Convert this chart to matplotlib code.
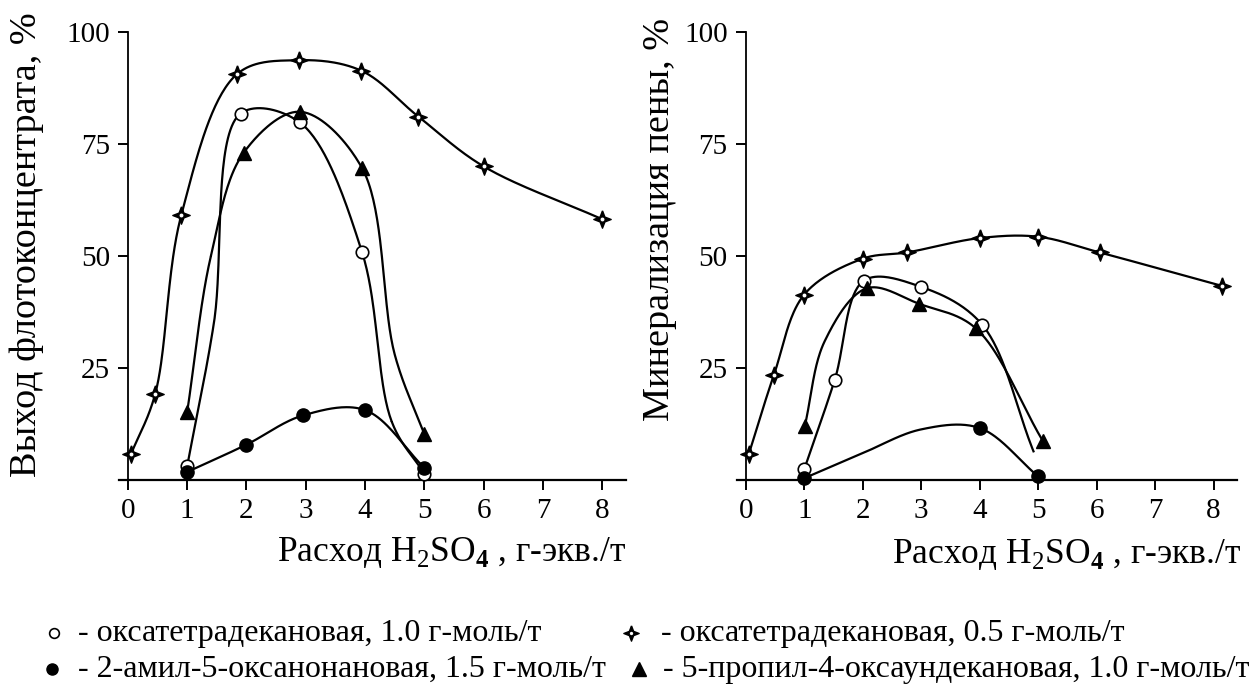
import numpy as np
import matplotlib
matplotlib.use("Agg")
import matplotlib.pyplot as plt
from matplotlib.path import Path
from matplotlib.lines import Line2D

plt.rcParams['font.family'] = ['Liberation Serif', 'DejaVu Serif']
plt.rcParams['mathtext.fontset'] = 'custom'
plt.rcParams['mathtext.rm'] = 'Liberation Serif'
plt.rcParams['mathtext.bf'] = 'Liberation Serif:bold'

# ---- data: left panel (выход флотоконцентрата) ----
# *_mark = indices of points that carry a marker, other points only shape the curve
l_open_x = [1.0, 1.45, 1.9, 2.9, 3.95, 4.45, 5.0]
l_open_y = [3.1, 35.0, 81.8, 79.8, 50.8, 13.0, 1.4]
l_open_mark = [0, 2, 3, 4, 6]
l_star_x = [0.05, 0.46, 0.9, 1.84, 2.88, 3.93, 4.9, 6.0, 8.0]
l_star_y = [5.7, 19.2, 59.1, 90.6, 93.7, 91.4, 81.1, 70.0, 58.2]
l_fill_x = [1.0, 2.0, 2.95, 4.0, 5.0]
l_fill_y = [1.8, 7.9, 14.4, 15.6, 2.7]
l_tri_x = [1.0, 1.4, 1.95, 2.9, 3.95, 4.5, 5.0]
l_tri_y = [15.2, 50.0, 73.0, 82.2, 69.6, 28.0, 10.2]
l_tri_mark = [0, 2, 3, 4, 6]

# ---- data: right panel (минерализация пены) ----
r_open_x = [1.0, 1.52, 2.02, 3.0, 4.04, 4.92]
r_open_y = [2.4, 22.3, 44.5, 43.1, 34.7, 6.4]
r_open_mark = [0, 1, 2, 3, 4]
r_star_x = [0.05, 0.48, 1.0, 2.0, 2.76, 4.0, 5.0, 6.05, 8.15]
r_star_y = [5.7, 23.4, 41.4, 49.4, 50.8, 54.0, 54.3, 50.8, 43.3]
r_fill_x = [1.0, 2.0, 3.0, 4.0, 5.0]
r_fill_y = [0.4, 6.0, 11.3, 11.6, 0.8]
r_fill_mark = [0, 3, 4]
r_tri_x = [1.01, 1.35, 2.07, 2.97, 3.93, 5.08]
r_tri_y = [12.1, 31.0, 42.8, 39.3, 33.9, 8.7]
r_tri_mark = [0, 2, 3, 4, 5]

x_ticks = [0, 1, 2, 3, 4, 5, 6, 7, 8]
y_ticks = [25, 50, 75, 100]

legend_labels = ["- оксатетрадекановая, 1.0 г-моль/т",
                 "- оксатетрадекановая, 0.5 г-моль/т",
                 "- 2-амил-5-оксанонановая, 1.5 г-моль/т",
                 "- 5-пропил-4-оксаундекановая, 1.0 г-моль/т"]

# four-pointed star marker
r_in = 0.28
star = Path([(0, 1), (r_in, r_in), (1, 0), (r_in, -r_in), (0, -1),
             (-r_in, -r_in), (-1, 0), (-r_in, r_in), (0, 1)])


def smooth(xs, ys, sx=59.0, sy=4.48, n=40):
    # centripetal Catmull-Rom through the points (in pixel-like space)
    P = np.column_stack([np.asarray(xs) * sx, np.asarray(ys) * sy])
    P = np.vstack([2 * P[0] - P[1], P, 2 * P[-1] - P[-2]])
    outx, outy = [], []
    for i in range(1, len(P) - 2):
        p0, p1, p2, p3 = P[i - 1], P[i], P[i + 1], P[i + 2]
        t0 = 0.0
        t1 = t0 + np.linalg.norm(p1 - p0) ** 0.5
        t2 = t1 + np.linalg.norm(p2 - p1) ** 0.5
        t3 = t2 + np.linalg.norm(p3 - p2) ** 0.5
        t = np.linspace(t1, t2, n)[:, None]
        a1 = (t1 - t) / (t1 - t0) * p0 + (t - t0) / (t1 - t0) * p1
        a2 = (t2 - t) / (t2 - t1) * p1 + (t - t1) / (t2 - t1) * p2
        a3 = (t3 - t) / (t3 - t2) * p2 + (t - t2) / (t3 - t2) * p3
        b1 = (t2 - t) / (t2 - t0) * a1 + (t - t0) / (t2 - t0) * a2
        b2 = (t3 - t) / (t3 - t1) * a2 + (t - t1) / (t3 - t1) * a3
        c = (t2 - t) / (t2 - t1) * b1 + (t - t1) / (t2 - t1) * b2
        outx.extend(c[:, 0] / sx)
        outy.extend(c[:, 1] / sy)
    return np.array(outx), np.array(outy)


def draw_series(ax, xs, ys, kind, mark=None):
    cx, cy = smooth(xs, ys)
    ax.plot(cx, cy, color='black', lw=1.6, clip_on=False, zorder=2)
    xs = np.asarray(xs)
    ys = np.asarray(ys)
    if mark is not None:
        xs = xs[mark]
        ys = ys[mark]
    if kind == 'open':
        ax.plot(xs, ys, 'o', ms=9, mfc='white', mec='black', mew=1.2, clip_on=False, zorder=3)
    elif kind == 'fill':
        ax.plot(xs, ys, 'o', ms=9.5, color='black', clip_on=False, zorder=3)
    elif kind == 'tri':
        ax.plot(xs, ys, '^', ms=10.5, color='black', clip_on=False, zorder=3)
    else:
        ax.plot(xs, ys, ls='none', marker=star, ms=12.5, color='black', clip_on=False, zorder=3)
        ax.plot(xs, ys, 'o', ms=2.8, color='white', mew=0, clip_on=False, zorder=4)


fig = plt.figure(figsize=(12.5, 6.92), dpi=100)
ax1 = fig.add_axes([119 / 1250, 1 - 480 / 692, 507 / 1250, 448 / 692])
ax2 = fig.add_axes([737 / 1250, 1 - 480 / 692, 500 / 1250, 448 / 692])

draw_series(ax1, l_star_x, l_star_y, 'star')
draw_series(ax1, l_open_x, l_open_y, 'open', l_open_mark)
draw_series(ax1, l_tri_x, l_tri_y, 'tri', l_tri_mark)
draw_series(ax1, l_fill_x, l_fill_y, 'fill')

draw_series(ax2, r_star_x, r_star_y, 'star')
draw_series(ax2, r_open_x, r_open_y, 'open', r_open_mark)
draw_series(ax2, r_tri_x, r_tri_y, 'tri', r_tri_mark)
draw_series(ax2, r_fill_x, r_fill_y, 'fill', r_fill_mark)

for ax in (ax1, ax2):
    ax.set_xlim(-0.15, 8.4)
    ax.set_ylim(0, 100)
    ax.spines['top'].set_visible(False)
    ax.spines['right'].set_visible(False)
    ax.spines['left'].set_position(('data', 0))
    ax.spines['left'].set_linewidth(1.3)
    ax.spines['bottom'].set_linewidth(1.6)
    ax.set_xticks(x_ticks)
    ax.set_yticks(y_ticks)
    ax.tick_params(direction='out', length=7, width=1.4, labelsize=21, pad=6)
    ax.patch.set_visible(False)

fig.text(27 / 1250, 1 - 245 / 692, "Выход флотоконцентрата, %", rotation=90,
         ha='center', va='center', fontsize=27.5)
fig.text(660 / 1250, 1 - 219 / 692, "Минерализация пены, %", rotation=90,
         ha='center', va='center', fontsize=27.5)
fig.text(452 / 1250, 1 - 553 / 692, r"Расход H$_2$SO$_\mathbf{4}$ , г-экв./т",
         ha='center', va='center', fontsize=25.5)
fig.text(1067 / 1250, 1 - 555 / 692, r"Расход H$_2$SO$_\mathbf{4}$ , г-экв./т",
         ha='center', va='center', fontsize=25.5)

# legend
row1, row2 = 1 - 633 / 692, 1 - 669 / 692
fig.add_artist(Line2D([54 / 1250], [row1], transform=fig.transFigure, marker='o', ms=7,
                      mfc='white', mec='black', mew=1.2, ls='none'))
fig.add_artist(Line2D([631 / 1250], [row1], transform=fig.transFigure, marker=star, ms=11,
                      color='black', ls='none'))
fig.add_artist(Line2D([631 / 1250], [row1], transform=fig.transFigure, marker='o', ms=2.4,
                      color='white', mew=0, ls='none'))
fig.add_artist(Line2D([52 / 1250], [row2], transform=fig.transFigure, marker='o', ms=8,
                      color='black', ls='none'))
fig.add_artist(Line2D([639 / 1250], [row2], transform=fig.transFigure, marker='^', ms=10,
                      color='black', ls='none'))
fig.text(78 / 1250, row1, legend_labels[0], ha='left', va='center', fontsize=23)
fig.text(661 / 1250, row1, legend_labels[1], ha='left', va='center', fontsize=23)
fig.text(78 / 1250, row2, legend_labels[2], ha='left', va='center', fontsize=23)
fig.text(663 / 1250, row2, legend_labels[3], ha='left', va='center', fontsize=23)

fig.savefig("out.png", dpi=100, facecolor='white')
